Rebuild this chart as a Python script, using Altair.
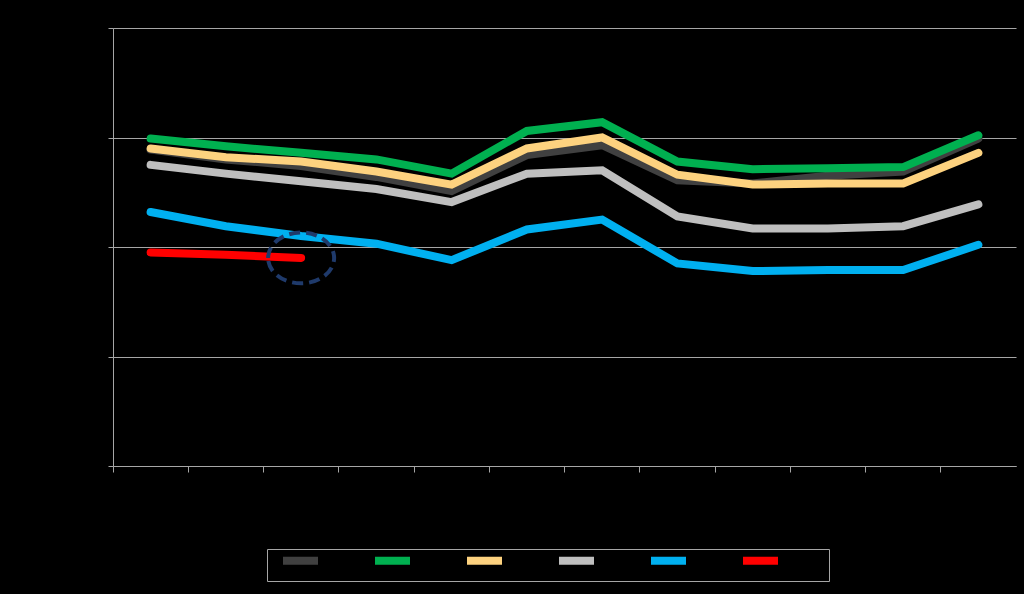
import altair as alt
import pandas as pd

months = ["Jan", "Feb", "Mar", "Apr", "May", "Jun", "Jul", "Aug", "Sep", "Oct", "Nov", "Dec"]
series = ["2015", "2016", "2017", "2018", "2019", "2020"]
colors = ["#404040", "#00b050", "#fdd27f", "#bfbfbf", "#00b0f0", "#ff0000"]

s2015 = [2.89, 2.80, 2.74, 2.64, 2.51, 2.84, 2.93, 2.61, 2.58, 2.65, 2.69, 2.99]
s2016 = [2.99, 2.92, 2.86, 2.80, 2.67, 3.06, 3.14, 2.78, 2.71, 2.72, 2.73, 3.02]
s2017 = [2.90, 2.82, 2.78, 2.69, 2.57, 2.90, 3.00, 2.66, 2.57, 2.58, 2.58, 2.86]
s2018 = [2.75, 2.67, 2.60, 2.53, 2.41, 2.67, 2.70, 2.28, 2.17, 2.17, 2.19, 2.39]
s2019 = [2.32, 2.19, 2.10, 2.03, 1.88, 2.16, 2.25, 1.85, 1.78, 1.79, 1.79, 2.02]
s2020 = [1.95, 1.93, 1.90]

all_vals = [s2015, s2016, s2017, s2018, s2019, s2020]
rows = []
for i, (name, vals) in enumerate(zip(series, all_vals)):
    for m, v in zip(months, vals):
        rows.append({"month": m, "series": name, "value": v, "ord": i})
df = pd.DataFrame(rows)

hl = pd.DataFrame([{"month": months[len(s2020) - 1], "value": s2020[-1]}])

x_enc = alt.X("month:N", sort=months,
              scale=alt.Scale(type="band", paddingInner=0, paddingOuter=0),
              axis=alt.Axis(title=None, bandPosition=0, grid=False, domainColor="#a6a6a6",
                            tickColor="#a6a6a6", tickSize=6, labelColor="#000000",
                            labelAngle=0, labelPadding=6))
y_enc = alt.Y("value:Q", scale=alt.Scale(domain=[0, 4], nice=False),
              axis=alt.Axis(title=None, values=[0, 1, 2, 3, 4], grid=True, gridColor="#a6a6a6",
                            domainColor="#a6a6a6", tickColor="#a6a6a6", tickSize=5,
                            labelColor="#000000"))

lines = alt.Chart(df).mark_line(strokeWidth=8, strokeCap="round", strokeJoin="miter").encode(
    x=x_enc,
    y=y_enc,
    color=alt.Color("series:N", sort=series,
                    scale=alt.Scale(domain=series, range=colors),
                    legend=alt.Legend(title=" ", titleOrient="right", titlePadding=7,
                                      titleFontSize=8, titleColor="#000000",
                                      orient="none", legendX=154, legendY=521,
                                      direction="horizontal",
                                      symbolType="M -5 0 H 5",
                                      symbolStrokeWidth=8, symbolSize=49,
                                      labelColor="#000000", labelFontSize=8,
                                      labelOffset=32, symbolOffset=22,
                                      columnPadding=1, padding=4,
                                      strokeColor="#a6a6a6", fillColor="#000000")),
    order=alt.Order("ord:Q"),
)

ellipse = alt.Chart(hl).mark_point(
    shape="M -1 0 A 1 0.77 0 1 1 1 0 A 1 0.77 0 1 1 -1 0 Z",
    size=4356, filled=False, stroke="#1f3a6b", strokeWidth=4, strokeDash=[11, 6], opacity=1,
).encode(x=alt.X("month:N", sort=months), y=alt.Y("value:Q"))

chart = alt.layer(lines, ellipse).properties(
    width=903, height=438, background="#000000",
    autosize=alt.AutoSizeParams(type="none"),
    padding={"left": 113, "top": 28, "right": 8, "bottom": 128},
).configure_view(stroke=None)

chart.save("out.html", embed_options={"renderer": "svg", "actions": False})
